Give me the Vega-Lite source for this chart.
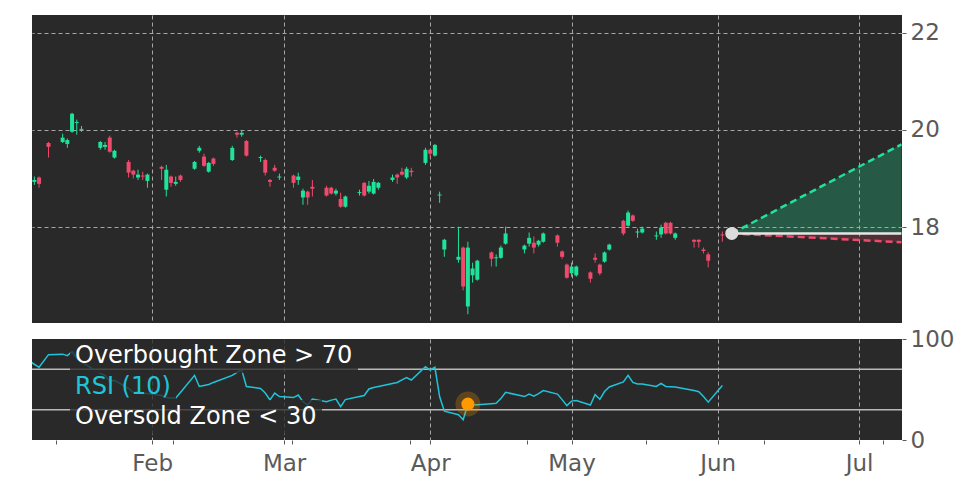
{
"$schema":"https://vega.github.io/schema/vega-lite/v6.json",
"background":"#ffffff",
"padding":{"left":31,"top":15,"right":5,"bottom":5},
"spacing":16,
"bounds":"flush",
"config":{
 "font":"DejaVu Sans",
 "view":{"fill":"#292929","stroke":null},
 "axis":{"labelFont":"DejaVu Sans","labelFontSize":23,"labelColor":"#5a5a5a","tickColor":"#5a5a5a","tickSize":4,"domain":false,"title":null,"gridColor":"#a6a6a6","gridDash":[4,3],"gridWidth":1,"labelPadding":4},
 "legend":{"orient":"none","fillColor":"rgba(41,41,41,0.78)","padding":5,"labelFont":"DejaVu Sans","labelFontSize":24,"labelColor":"#ffffff","labelLimit":600,"symbolSize":0,"symbolOpacity":0,"symbolStrokeWidth":0,"labelOffset":-24,"strokeColor":null}
},
"datasets":{
 "candles":[
  {"date":"2025-01-07","open":18.93,"high":19.04,"low":18.87,"close":18.97},
  {"date":"2025-01-08","open":19.02,"high":19.04,"low":18.81,"close":18.89},
  {"date":"2025-01-10","open":19.73,"high":19.75,"low":19.43,"close":19.65},
  {"date":"2025-01-13","open":19.75,"high":19.92,"low":19.73,"close":19.84},
  {"date":"2025-01-14","open":19.71,"high":19.82,"low":19.63,"close":19.79},
  {"date":"2025-01-15","open":19.96,"high":20.35,"low":19.94,"close":20.33},
  {"date":"2025-01-16","open":20.14,"high":20.21,"low":19.90,"close":20.16},
  {"date":"2025-01-17","open":20.00,"high":20.08,"low":19.96,"close":20.02},
  {"date":"2025-01-21","open":19.63,"high":19.77,"low":19.59,"close":19.75},
  {"date":"2025-01-22","open":19.65,"high":19.75,"low":19.59,"close":19.69},
  {"date":"2025-01-23","open":19.84,"high":19.88,"low":19.53,"close":19.55},
  {"date":"2025-01-24","open":19.43,"high":19.59,"low":19.41,"close":19.57},
  {"date":"2025-01-27","open":19.34,"high":19.38,"low":19.02,"close":19.12},
  {"date":"2025-01-28","open":19.16,"high":19.18,"low":19.00,"close":19.08},
  {"date":"2025-01-29","open":19.02,"high":19.18,"low":18.97,"close":19.08},
  {"date":"2025-01-30","open":19.06,"high":19.14,"low":18.97,"close":19.04},
  {"date":"2025-01-31","open":18.95,"high":19.10,"low":18.81,"close":19.08},
  {"date":"2025-02-03","open":19.24,"high":19.26,"low":18.97,"close":19.20},
  {"date":"2025-02-04","open":18.77,"high":19.28,"low":18.63,"close":19.18},
  {"date":"2025-02-05","open":19.04,"high":19.06,"low":18.83,"close":18.91},
  {"date":"2025-02-06","open":18.89,"high":19.04,"low":18.85,"close":18.93},
  {"date":"2025-02-07","open":19.06,"high":19.08,"low":18.93,"close":18.97},
  {"date":"2025-02-10","open":19.20,"high":19.36,"low":19.18,"close":19.34},
  {"date":"2025-02-11","open":19.57,"high":19.67,"low":19.53,"close":19.63},
  {"date":"2025-02-12","open":19.45,"high":19.51,"low":19.24,"close":19.26},
  {"date":"2025-02-13","open":19.14,"high":19.34,"low":19.12,"close":19.32},
  {"date":"2025-02-14","open":19.41,"high":19.43,"low":19.26,"close":19.30},
  {"date":"2025-02-18","open":19.38,"high":19.67,"low":19.36,"close":19.63},
  {"date":"2025-02-19","open":19.94,"high":19.96,"low":19.84,"close":19.90},
  {"date":"2025-02-20","open":19.90,"high":20.00,"low":19.86,"close":19.94},
  {"date":"2025-02-21","open":19.77,"high":19.79,"low":19.45,"close":19.47},
  {"date":"2025-02-24","open":19.42,"high":19.47,"low":19.34,"close":19.44},
  {"date":"2025-02-25","open":19.38,"high":19.41,"low":19.06,"close":19.12},
  {"date":"2025-02-26","open":18.97,"high":18.99,"low":18.83,"close":18.93},
  {"date":"2025-02-27","open":19.22,"high":19.28,"low":19.14,"close":19.16},
  {"date":"2025-02-28","open":19.02,"high":19.10,"low":18.97,"close":19.04},
  {"date":"2025-03-03","open":19.06,"high":19.08,"low":18.81,"close":18.91},
  {"date":"2025-03-04","open":18.97,"high":19.12,"low":18.87,"close":19.04},
  {"date":"2025-03-05","open":18.61,"high":18.79,"low":18.46,"close":18.75},
  {"date":"2025-03-06","open":18.73,"high":18.75,"low":18.46,"close":18.61},
  {"date":"2025-03-07","open":18.83,"high":18.97,"low":18.63,"close":18.79},
  {"date":"2025-03-10","open":18.81,"high":18.85,"low":18.63,"close":18.65},
  {"date":"2025-03-11","open":18.81,"high":18.83,"low":18.67,"close":18.69},
  {"date":"2025-03-12","open":18.69,"high":18.79,"low":18.65,"close":18.75},
  {"date":"2025-03-13","open":18.58,"high":18.71,"low":18.40,"close":18.42},
  {"date":"2025-03-14","open":18.42,"high":18.65,"low":18.40,"close":18.63},
  {"date":"2025-03-17","open":18.70,"high":18.77,"low":18.65,"close":18.72},
  {"date":"2025-03-18","open":18.91,"high":18.93,"low":18.63,"close":18.65},
  {"date":"2025-03-19","open":18.73,"high":18.95,"low":18.69,"close":18.85},
  {"date":"2025-03-20","open":18.69,"high":18.99,"low":18.67,"close":18.93},
  {"date":"2025-03-21","open":18.81,"high":18.93,"low":18.77,"close":18.91},
  {"date":"2025-03-24","open":18.97,"high":19.08,"low":18.93,"close":19.02},
  {"date":"2025-03-25","open":19.08,"high":19.10,"low":18.89,"close":19.02},
  {"date":"2025-03-26","open":19.14,"high":19.22,"low":19.06,"close":19.08},
  {"date":"2025-03-27","open":19.02,"high":19.24,"low":18.99,"close":19.20},
  {"date":"2025-03-28","open":19.16,"high":19.22,"low":19.04,"close":19.13},
  {"date":"2025-03-31","open":19.32,"high":19.63,"low":19.28,"close":19.59},
  {"date":"2025-04-01","open":19.59,"high":19.61,"low":19.43,"close":19.51},
  {"date":"2025-04-02","open":19.47,"high":19.71,"low":19.45,"close":19.69},
  {"date":"2025-04-03","open":18.65,"high":18.73,"low":18.50,"close":18.67},
  {"date":"2025-04-04","open":17.54,"high":17.76,"low":17.39,"close":17.74},
  {"date":"2025-04-07","open":17.33,"high":18.01,"low":17.27,"close":17.39},
  {"date":"2025-04-08","open":17.58,"high":17.60,"low":16.70,"close":16.78},
  {"date":"2025-04-09","open":16.37,"high":17.70,"low":16.21,"close":17.58},
  {"date":"2025-04-10","open":17.01,"high":17.27,"low":16.86,"close":17.15},
  {"date":"2025-04-11","open":16.92,"high":17.33,"low":16.90,"close":17.31},
  {"date":"2025-04-14","open":17.48,"high":17.50,"low":17.19,"close":17.35},
  {"date":"2025-04-15","open":17.36,"high":17.44,"low":17.19,"close":17.38},
  {"date":"2025-04-16","open":17.37,"high":17.62,"low":17.35,"close":17.58},
  {"date":"2025-04-17","open":17.66,"high":18.01,"low":17.64,"close":17.87},
  {"date":"2025-04-21","open":17.54,"high":17.64,"low":17.46,"close":17.62},
  {"date":"2025-04-22","open":17.66,"high":17.89,"low":17.60,"close":17.78},
  {"date":"2025-04-23","open":17.68,"high":17.81,"low":17.46,"close":17.58},
  {"date":"2025-04-24","open":17.64,"high":17.74,"low":17.60,"close":17.72},
  {"date":"2025-04-25","open":17.70,"high":17.89,"low":17.68,"close":17.87},
  {"date":"2025-04-28","open":17.83,"high":17.85,"low":17.60,"close":17.68},
  {"date":"2025-04-29","open":17.50,"high":17.52,"low":17.35,"close":17.39},
  {"date":"2025-04-30","open":17.23,"high":17.25,"low":16.94,"close":16.96},
  {"date":"2025-05-01","open":17.05,"high":17.27,"low":16.98,"close":17.19},
  {"date":"2025-05-02","open":17.01,"high":17.21,"low":16.98,"close":17.19},
  {"date":"2025-05-05","open":17.07,"high":17.09,"low":16.86,"close":16.94},
  {"date":"2025-05-06","open":17.37,"high":17.46,"low":17.27,"close":17.33},
  {"date":"2025-05-07","open":17.23,"high":17.25,"low":17.01,"close":17.05},
  {"date":"2025-05-08","open":17.29,"high":17.50,"low":17.27,"close":17.48},
  {"date":"2025-05-09","open":17.54,"high":17.66,"low":17.52,"close":17.64},
  {"date":"2025-05-12","open":18.13,"high":18.15,"low":17.83,"close":17.87},
  {"date":"2025-05-13","open":18.03,"high":18.34,"low":18.01,"close":18.30},
  {"date":"2025-05-14","open":18.24,"high":18.26,"low":18.11,"close":18.13},
  {"date":"2025-05-15","open":17.89,"high":17.97,"low":17.78,"close":17.91},
  {"date":"2025-05-16","open":17.89,"high":18.01,"low":17.87,"close":17.97},
  {"date":"2025-05-19","open":17.81,"high":17.91,"low":17.74,"close":17.83},
  {"date":"2025-05-20","open":17.85,"high":18.05,"low":17.78,"close":17.99},
  {"date":"2025-05-21","open":18.09,"high":18.11,"low":17.85,"close":17.87},
  {"date":"2025-05-22","open":18.09,"high":18.11,"low":17.85,"close":17.87},
  {"date":"2025-05-23","open":17.78,"high":17.89,"low":17.74,"close":17.87},
  {"date":"2025-05-27","open":17.74,"high":17.75,"low":17.58,"close":17.70},
  {"date":"2025-05-28","open":17.74,"high":17.75,"low":17.58,"close":17.70},
  {"date":"2025-05-29","open":17.54,"high":17.58,"low":17.46,"close":17.51},
  {"date":"2025-05-30","open":17.44,"high":17.48,"low":17.17,"close":17.31},
  {"date":"2025-06-02","open":17.85,"high":17.91,"low":17.70,"close":17.83}
 ],
 "rsi":[
  {"date":"2025-01-06","rsi":78},{"date":"2025-01-07","rsi":75},{"date":"2025-01-08","rsi":72},{"date":"2025-01-10","rsi":84.5},
  {"date":"2025-01-13","rsi":85},{"date":"2025-01-14","rsi":83.5},{"date":"2025-01-15","rsi":87.5},{"date":"2025-01-16","rsi":81},{"date":"2025-01-17","rsi":77},
  {"date":"2025-01-21","rsi":66},{"date":"2025-01-22","rsi":64},{"date":"2025-01-23","rsi":58},{"date":"2025-01-24","rsi":59},
  {"date":"2025-01-27","rsi":51},{"date":"2025-01-28","rsi":47},{"date":"2025-01-29","rsi":48},{"date":"2025-01-30","rsi":46},{"date":"2025-01-31","rsi":46},
  {"date":"2025-02-03","rsi":44},{"date":"2025-02-04","rsi":42},{"date":"2025-02-05","rsi":41.5},{"date":"2025-02-06","rsi":41.5},{"date":"2025-02-07","rsi":47},
  {"date":"2025-02-10","rsi":64},{"date":"2025-02-11","rsi":53},{"date":"2025-02-12","rsi":54},{"date":"2025-02-13","rsi":55},{"date":"2025-02-14","rsi":57},
  {"date":"2025-02-18","rsi":64},{"date":"2025-02-19","rsi":67},{"date":"2025-02-20","rsi":69.5},{"date":"2025-02-21","rsi":53},
  {"date":"2025-02-24","rsi":51},{"date":"2025-02-25","rsi":46.5},{"date":"2025-02-26","rsi":39.6},{"date":"2025-02-27","rsi":46.5},{"date":"2025-02-28","rsi":43},
  {"date":"2025-03-03","rsi":42},{"date":"2025-03-04","rsi":44.5},{"date":"2025-03-05","rsi":38},{"date":"2025-03-06","rsi":34.6},{"date":"2025-03-07","rsi":40.6},
  {"date":"2025-03-10","rsi":38},{"date":"2025-03-11","rsi":39.5},{"date":"2025-03-12","rsi":40.6},{"date":"2025-03-13","rsi":33},{"date":"2025-03-14","rsi":40},
  {"date":"2025-03-17","rsi":43},{"date":"2025-03-18","rsi":44},{"date":"2025-03-19","rsi":50.5},{"date":"2025-03-20","rsi":52},{"date":"2025-03-21","rsi":53},
  {"date":"2025-03-24","rsi":56},{"date":"2025-03-25","rsi":57},{"date":"2025-03-26","rsi":59.5},{"date":"2025-03-27","rsi":61.7},{"date":"2025-03-28","rsi":59.4},
  {"date":"2025-03-31","rsi":72.6},{"date":"2025-04-01","rsi":69.3},{"date":"2025-04-02","rsi":72},{"date":"2025-04-03","rsi":43},{"date":"2025-04-04","rsi":28.5},
  {"date":"2025-04-07","rsi":25},{"date":"2025-04-08","rsi":20},{"date":"2025-04-09","rsi":35.6},{"date":"2025-04-10","rsi":34.7},{"date":"2025-04-11","rsi":35},
  {"date":"2025-04-14","rsi":36},{"date":"2025-04-15","rsi":36.3},{"date":"2025-04-16","rsi":41},{"date":"2025-04-17","rsi":47.2},
  {"date":"2025-04-21","rsi":43},{"date":"2025-04-22","rsi":45.5},{"date":"2025-04-23","rsi":43.5},{"date":"2025-04-24","rsi":46},{"date":"2025-04-25","rsi":49},
  {"date":"2025-04-28","rsi":45.5},{"date":"2025-04-29","rsi":40},{"date":"2025-04-30","rsi":34},{"date":"2025-05-01","rsi":38.5},{"date":"2025-05-02","rsi":39},
  {"date":"2025-05-05","rsi":34.6},{"date":"2025-05-06","rsi":45},{"date":"2025-05-07","rsi":40.3},{"date":"2025-05-08","rsi":48},{"date":"2025-05-09","rsi":52.5},
  {"date":"2025-05-12","rsi":57.5},{"date":"2025-05-13","rsi":64},{"date":"2025-05-14","rsi":57},{"date":"2025-05-15","rsi":55.5},{"date":"2025-05-16","rsi":55.4},
  {"date":"2025-05-19","rsi":53},{"date":"2025-05-20","rsi":56},{"date":"2025-05-21","rsi":53},{"date":"2025-05-22","rsi":52.8},{"date":"2025-05-23","rsi":52.5},
  {"date":"2025-05-27","rsi":49},{"date":"2025-05-28","rsi":47.8},{"date":"2025-05-29","rsi":43},{"date":"2025-05-30","rsi":37.5},
  {"date":"2025-06-02","rsi":54}
 ],
 "forecast":[
  {"date":"2025-06-04","mid":17.87,"upper":17.87,"lower":17.87},
  {"date":"2025-07-10","mid":17.87,"upper":19.70,"lower":17.69}
 ],
 "signal":[{"date":"2025-04-09","rsi":35.6}],
 "zones":[{"zone":"Overbought Zone > 70","level":70},{"zone":"Oversold Zone < 30","level":30}]
},
"vconcat":[
 {
  "width":870,"height":308,
  "layer":[
   {"data":{"name":"forecast"},"mark":{"type":"area","color":"#1fe39a","opacity":0.26,"clip":true},
    "encoding":{
     "x":{"field":"date","type":"temporal","scale":{"type":"utc","padding":0,"domain":[{"year":2025,"month":1,"date":6,"hours":12,"utc":true},{"year":2025,"month":7,"date":10,"hours":3,"utc":true}]},
      "axis":{"labels":false,"ticks":false,"grid":true,"values":[{"year":2025,"month":2,"date":1,"utc":true},{"year":2025,"month":3,"date":1,"utc":true},{"year":2025,"month":4,"date":1,"utc":true},{"year":2025,"month":5,"date":1,"utc":true},{"year":2025,"month":6,"date":1,"utc":true},{"year":2025,"month":7,"date":1,"utc":true}]}},
     "y":{"field":"mid","type":"quantitative","scale":{"domain":[16.03,22.36],"nice":false,"zero":false},"axis":{"orient":"right","values":[18,20,22],"grid":true}},
     "y2":{"field":"upper"}}},
   {"data":{"name":"forecast"},"mark":{"type":"area","color":"#ef4a6b","opacity":0.2,"clip":true},
    "encoding":{"x":{"field":"date","type":"temporal"},"y":{"field":"mid","type":"quantitative"},"y2":{"field":"lower"}}},
   {"data":{"name":"forecast"},"mark":{"type":"line","color":"#1fe39a","strokeWidth":2.5,"strokeDash":[7,4],"clip":true},
    "encoding":{"x":{"field":"date","type":"temporal"},"y":{"field":"upper","type":"quantitative"}}},
   {"data":{"name":"forecast"},"mark":{"type":"line","color":"#ef4a6b","strokeWidth":2.5,"strokeDash":[7,4],"clip":true},
    "encoding":{"x":{"field":"date","type":"temporal"},"y":{"field":"lower","type":"quantitative"}}},
   {"data":{"name":"forecast"},"mark":{"type":"line","color":"#e6e6e6","strokeWidth":2.5,"clip":true},
    "encoding":{"x":{"field":"date","type":"temporal"},"y":{"field":"mid","type":"quantitative"}}},
   {"data":{"name":"candles"},"mark":{"type":"rule","strokeWidth":1,"clip":true},
    "encoding":{"x":{"field":"date","type":"temporal"},"y":{"field":"low","type":"quantitative"},"y2":{"field":"high"},
     "color":{"condition":{"test":"datum.close >= datum.open","value":"#1fe39a"},"value":"#ef4a6b"}}},
   {"data":{"name":"candles"},"mark":{"type":"bar","size":4,"clip":true},
    "encoding":{"x":{"field":"date","type":"temporal"},"y":{"field":"open","type":"quantitative"},"y2":{"field":"close"},
     "color":{"condition":{"test":"datum.close >= datum.open","value":"#1fe39a"},"value":"#ef4a6b"}}},
   {"data":{"name":"forecast"},"transform":[{"filter":"datum.upper == datum.lower"}],"mark":{"type":"point","filled":true,"size":170,"color":"#dcdcdc","opacity":1},
    "encoding":{"x":{"field":"date","type":"temporal"},"y":{"field":"mid","type":"quantitative"}}}
  ]
 },
 {
  "width":870,"height":101,
  "layer":[
   {"data":{"name":"zones"},"transform":[{"filter":"datum.level == 70"}],"mark":{"type":"rule","color":"#b9b9b9","strokeWidth":1.5},
    "encoding":{"y":{"field":"level","type":"quantitative","scale":{"domain":[0,100],"nice":false},"axis":{"orient":"right","values":[0,30,70,100],"grid":false}},
     "strokeDash":{"field":"zone","type":"nominal","scale":{"range":[[1,0]]},"legend":{"title":null,"legendX":38,"legendY":324,"labelColor":"#ffffff"}}}},
   {"data":{"name":"zones"},"transform":[{"filter":"datum.level == 30"}],"mark":{"type":"rule","strokeWidth":1.5},
    "encoding":{"y":{"field":"level","type":"quantitative"},
     "stroke":{"field":"zone","type":"nominal","scale":{"range":["#b9b9b9"]},"legend":{"title":null,"legendX":38,"legendY":385,"labelColor":"#ffffff"}}}},
   {"data":{"name":"rsi"},"mark":{"type":"line","strokeWidth":1.5,"clip":true},
    "encoding":{
     "x":{"field":"date","type":"temporal","scale":{"type":"utc","padding":0,"domain":[{"year":2025,"month":1,"date":6,"hours":12,"utc":true},{"year":2025,"month":7,"date":10,"hours":3,"utc":true}]},
      "axis":{"grid":true,"labelPadding":8,
       "values":[{"year":2025,"month":1,"date":11,"hours":12,"utc":true},{"year":2025,"month":2,"date":1,"utc":true},{"year":2025,"month":2,"date":5,"hours":12,"utc":true},{"year":2025,"month":3,"date":1,"utc":true},{"year":2025,"month":3,"date":2,"hours":18,"utc":true},{"year":2025,"month":3,"date":27,"hours":18,"utc":true},{"year":2025,"month":4,"date":1,"utc":true},{"year":2025,"month":4,"date":21,"hours":12,"utc":true},{"year":2025,"month":5,"date":1,"utc":true},{"year":2025,"month":5,"date":16,"hours":18,"utc":true},{"year":2025,"month":6,"date":1,"utc":true},{"year":2025,"month":6,"date":10,"hours":18,"utc":true},{"year":2025,"month":7,"date":1,"utc":true},{"year":2025,"month":7,"date":6,"utc":true}],
       "labelExpr":"utcdate(datum.value) == 1 && utchours(datum.value) == 0 ? utcFormat(datum.value, '%b') : ''",
       "gridOpacity":{"condition":{"test":"utcdate(datum.value) == 1 && utchours(datum.value) == 0","value":1},"value":0}}},
     "y":{"field":"rsi","type":"quantitative"},
     "color":{"datum":"RSI (10)","scale":{"range":["#20c4d8"]},"legend":{"title":null,"legendX":38,"legendY":355,"labelColor":"#20c4d8"}}}},
   {"data":{"name":"signal"},"mark":{"type":"point","filled":true,"size":620,"color":"#ff9900","opacity":0.25},
    "encoding":{"x":{"field":"date","type":"temporal"},"y":{"field":"rsi","type":"quantitative"}}},
   {"data":{"name":"signal"},"mark":{"type":"point","filled":true,"size":170,"color":"#ff9900","opacity":1},
    "encoding":{"x":{"field":"date","type":"temporal"},"y":{"field":"rsi","type":"quantitative"}}}
  ]
 }
]
}
